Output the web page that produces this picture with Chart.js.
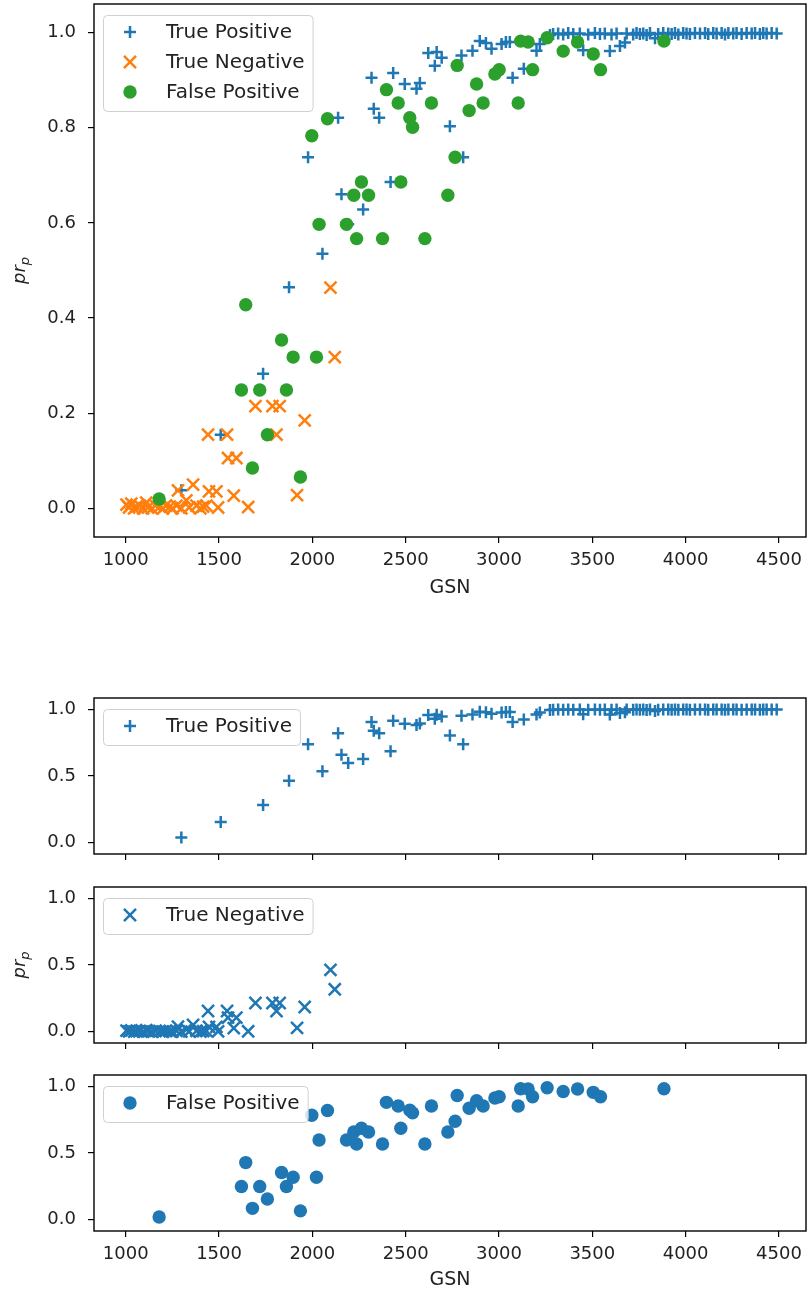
<!DOCTYPE html>
<html>
<head>
<meta charset="utf-8">
<script src="https://cdn.jsdelivr.net/npm/chart.js@4.4.0/dist/chart.umd.min.js"></script>
<style>
  body { margin: 0; background: #fff; }
  #wrap { position: relative; width: 807px; height: 1295px; }
  canvas { position: absolute; left: 0; }
</style>
</head>
<body>
<div id="wrap">
  <canvas id="cAll" width="807" height="600" style="top:0px"></canvas>
  <canvas id="cTP" width="807" height="175" style="top:690px"></canvas>
  <canvas id="cTN" width="807" height="175" style="top:880px"></canvas>
  <canvas id="cFP" width="807" height="224" style="top:1068px"></canvas>
</div>
<script>
// ---- data ----
const tpGsn = [1298, 1509, 1736, 1875, 1977, 2054, 2138, 2156, 2192, 2272,
               2317, 2329, 2358, 2419, 2433, 2495, 2558, 2576, 2621, 2656,
               2666, 2693, 2737, 2799, 2808, 2858, 2897, 2930, 2960, 3014,
               3037, 3058, 3073, 3133, 3201, 3219, 3273, 3290, 3317, 3344,
               3371, 3398, 3433, 3451, 3478, 3514, 3541, 3567, 3594, 3603,
               3630, 3648, 3675, 3684, 3719, 3737, 3755, 3773, 3791, 3809,
               3836, 3853, 3880, 3907, 3925, 3943, 3961, 3987, 4005, 4023,
               4050, 4077, 4104, 4121, 4148, 4166, 4193, 4211, 4229, 4255,
               4273, 4300, 4327, 4354, 4372, 4398, 4416, 4434, 4461, 4488];
const tpPr  = [0.038, 0.155, 0.283, 0.465, 0.738, 0.535, 0.821, 0.660, 0.597, 0.628,
               0.905, 0.840, 0.821, 0.686, 0.915, 0.892, 0.882, 0.894, 0.957, 0.930,
               0.959, 0.947, 0.803, 0.952, 0.738, 0.962, 0.982, 0.978, 0.966, 0.976,
               0.980, 0.980, 0.905, 0.924, 0.962, 0.976, 0.995, 0.997, 0.998, 0.996,
               0.999, 0.997, 0.998, 0.963, 0.996, 0.999, 0.997, 0.998, 0.961, 0.996,
               0.998, 0.972, 0.979, 0.998, 0.996, 0.999, 0.997, 0.998, 0.995, 0.999,
               0.988, 0.997, 0.999, 0.998, 0.997, 0.999, 0.996, 0.999, 0.998, 0.997,
               0.999, 0.998, 0.999, 0.997, 0.999, 0.998, 0.999, 0.996, 0.999, 0.998,
               0.999, 0.997, 0.999, 0.998, 0.999, 0.997, 0.999, 0.998, 0.999, 0.998];

const tnGsn = [1004, 1018, 1030, 1045, 1057, 1075, 1093, 1110, 1120, 1140,
               1160, 1182, 1200, 1215, 1236, 1250, 1272, 1280, 1298, 1325,
               1340, 1361, 1379, 1400, 1415, 1432, 1441, 1446, 1486, 1495,
               1543, 1548, 1579, 1593, 1656, 1695, 1786, 1808, 1825, 1918,
               1959, 2097, 2120];
const tnPr  = [0.008, 0.002, 0.010, 0.000, 0.004, 0.006, 0.000, 0.012, 0.002, 0.000,
               0.006, 0.004, 0.000, 0.006, 0.004, 0.000, 0.006, 0.038, 0.000, 0.017,
               0.002, 0.050, 0.006, 0.000, 0.004, 0.006, 0.155, 0.036, 0.036, 0.002,
               0.155, 0.106, 0.027, 0.106, 0.003, 0.215, 0.215, 0.155, 0.215, 0.028,
               0.185, 0.464, 0.318];

const fpGsn = [1179, 1620, 1643, 1679, 1718, 1759, 1835, 1861, 1897, 1936,
               1997, 2022, 2036, 2081, 2183, 2222, 2237, 2263, 2301, 2376,
               2397, 2460, 2474, 2522, 2537, 2603, 2638, 2726, 2765, 2776,
               2840, 2880, 2915, 2978, 3001, 3103, 3116, 3156, 3180, 3258,
               3344, 3421, 3505, 3544, 3884];
const fpPr  = [0.020, 0.249, 0.428, 0.085, 0.249, 0.155, 0.354, 0.249, 0.318, 0.066,
               0.783, 0.318, 0.597, 0.819, 0.597, 0.658, 0.567, 0.686, 0.658, 0.567,
               0.880, 0.852, 0.686, 0.821, 0.801, 0.567, 0.852, 0.658, 0.738, 0.931,
               0.836, 0.892, 0.852, 0.913, 0.922, 0.852, 0.982, 0.980, 0.922, 0.989,
               0.961, 0.980, 0.955, 0.922, 0.982];

const xTicks = [1000, 1500, 2000, 2500, 3000, 3500, 4000, 4500];
const yTicksTop = [0.0, 0.2, 0.4, 0.6, 0.8, 1.0];
const yTicksSub = [0.0, 0.5, 1.0];

const BLUE = '#1f77b4', ORANGE = '#ff7f0e', GREEN = '#2ca02c';
const FONT = '"DejaVu Sans", "Liberation Sans", sans-serif';

function pts(xs, ys) {
    return xs.map((x, i) => ({ x: x, y: ys[i] }));
}

function tpSet(color) {
    return { label: 'True Positive', data: pts(tpGsn, tpPr), pointStyle: 'cross',
             pointRadius: 6, borderWidth: 2.5, borderColor: color, backgroundColor: color, order: 2 };
}
function tnSet(color) {
    return { label: 'True Negative', data: pts(tnGsn, tnPr), pointStyle: 'crossRot',
             pointRadius: 8.5, borderWidth: 2.5, borderColor: color, backgroundColor: color, order: 1 };
}
function fpSet(color) {
    return { label: 'False Positive', data: pts(fpGsn, fpPr), pointStyle: 'circle',
             pointRadius: 6.7, borderWidth: 0, borderColor: color, backgroundColor: color, order: 0 };
}

// legend marker, same shapes as the points
function drawMarker(ctx, style, r, lw, color, x, y) {
    ctx.save();
    ctx.strokeStyle = color;
    ctx.fillStyle = color;
    ctx.lineWidth = lw;
    ctx.beginPath();
    if (style === 'circle') {
        ctx.arc(x, y, r, 0, Math.PI * 2);
        ctx.fill();
    } else if (style === 'cross') {
        ctx.moveTo(x - r, y); ctx.lineTo(x + r, y);
        ctx.moveTo(x, y - r); ctx.lineTo(x, y + r);
        ctx.stroke();
    } else {
        const d = r * Math.SQRT1_2;
        ctx.moveTo(x - d, y - d); ctx.lineTo(x + d, y + d);
        ctx.moveTo(x + d, y - d); ctx.lineTo(x - d, y + d);
        ctx.stroke();
    }
    ctx.restore();
}

// full box round the axes
const frameBox = {
    id: 'frameBox',
    afterDatasetsDraw(chart) {
        const a = chart.chartArea, ctx = chart.ctx;
        ctx.save();
        ctx.strokeStyle = '#000';
        ctx.lineWidth = 1.4;
        ctx.strokeRect(a.left, a.top, a.right - a.left, a.bottom - a.top);
        ctx.restore();
    }
};

// matplotlib style legend in upper left
const innerLegend = {
    id: 'innerLegend',
    afterDraw(chart) {
        const ctx = chart.ctx, a = chart.chartArea;
        const sets = chart.data.datasets.slice().sort((p, q) => q.order - p.order);
        const rowH = 30;
        ctx.save();
        ctx.font = '20px ' + FONT;
        let tw = 0;
        sets.forEach(d => { tw = Math.max(tw, ctx.measureText(d.label).width); });
        const x0 = a.left + 9, y0 = a.top + 11;
        const w = 63 + tw + 8, h = sets.length * rowH + 6;
        ctx.beginPath();
        ctx.roundRect(x0 + 0.5, y0 + 0.5, w, h, 4);
        ctx.fillStyle = 'rgba(255,255,255,0.8)';
        ctx.fill();
        ctx.strokeStyle = '#d0d0d0';
        ctx.lineWidth = 1;
        ctx.stroke();
        sets.forEach((d, i) => {
            const cy = y0 + 17 + i * rowH;
            drawMarker(ctx, d.pointStyle, d.pointRadius, d.borderWidth, d.backgroundColor, x0 + 27, cy);
            ctx.fillStyle = '#222';
            ctx.textBaseline = 'middle';
            ctx.textAlign = 'left';
            ctx.fillText(d.label, x0 + 63, cy + 1);
        });
        ctx.restore();
    }
};

// italic pr with subscript p
const yLabel = {
    id: 'yLabel',
    afterDraw(chart) {
        const opt = chart.options.plugins.yLabel;
        if (!opt || !opt.show) return;
        const a = chart.chartArea, ctx = chart.ctx;
        ctx.save();
        ctx.translate(22, (a.top + a.bottom) / 2);
        ctx.rotate(-Math.PI / 2);
        ctx.fillStyle = '#222';
        ctx.textBaseline = 'middle';
        ctx.textAlign = 'left';
        ctx.font = 'italic 18px ' + FONT;
        const w1 = ctx.measureText('pr').width;
        ctx.font = 'italic 13px ' + FONT;
        const w2 = ctx.measureText('p').width;
        const start = -(w1 + w2) / 2;
        ctx.font = 'italic 18px ' + FONT;
        ctx.fillText('pr', start, -2);
        ctx.font = 'italic 13px ' + FONT;
        ctx.fillText('p', start + w1, 4);
        ctx.restore();
    }
};

function makeChart(id, datasets, o) {
    const canvas = document.getElementById(id);
    const H = canvas.height;
    return new Chart(canvas, {
        type: 'scatter',
        data: { datasets: datasets },
        options: {
            responsive: false,
            animation: false,
            devicePixelRatio: 1,
            layout: { autoPadding: false, padding: { top: o.top, right: 1, left: 0, bottom: 0 } },
            plugins: {
                legend: { display: false },
                tooltip: { enabled: false },
                yLabel: { show: o.ylabel }
            },
            scales: {
                x: {
                    type: 'linear',
                    min: 830,
                    max: 4645,
                    afterBuildTicks: s => { s.ticks = xTicks.map(v => ({ value: v })); },
                    afterFit: s => {
                        s.height = H - o.bottom;
                        s.paddingLeft = 0;
                        s.paddingRight = 0;
                    },
                    ticks: {
                        autoSkip: false, maxRotation: 0, padding: 7, color: '#222',
                        font: { family: FONT, size: 18 },
                        callback: v => (o.xlabels ? String(v) : '')
                    },
                    grid: { drawOnChartArea: false, drawTicks: true, tickLength: 6, tickColor: '#000', lineWidth: 1.2 },
                    border: { display: false },
                    title: {
                        display: o.xlabels, text: 'GSN', color: '#222',
                        font: { family: FONT, size: 19 },
                        padding: { top: 0, bottom: 1 }
                    }
                },
                y: {
                    type: 'linear',
                    min: o.ymin,
                    max: o.ymax,
                    afterBuildTicks: s => { s.ticks = o.yticks.map(v => ({ value: v })); },
                    afterFit: s => {
                        s.width = 94;
                        s.paddingTop = 0;
                        s.paddingBottom = 0;
                    },
                    ticks: {
                        padding: 12, color: '#222',
                        font: { family: FONT, size: 18 },
                        callback: v => Number(v).toFixed(1)
                    },
                    grid: { drawOnChartArea: false, drawTicks: true, tickLength: 6, tickColor: '#000', lineWidth: 1.2 },
                    border: { display: false }
                }
            }
        },
        plugins: [frameBox, innerLegend, yLabel]
    });
}

makeChart('cAll', [tpSet(BLUE), tnSet(ORANGE), fpSet(GREEN)],
    { top: 4, bottom: 537, ymin: -0.06, ymax: 1.06, yticks: yTicksTop, xlabels: true, ylabel: true });
makeChart('cTP', [tpSet(BLUE)],
    { top: 8, bottom: 164, ymin: -0.085, ymax: 1.085, yticks: yTicksSub, xlabels: false, ylabel: false });
makeChart('cTN', [tnSet(BLUE)],
    { top: 7, bottom: 163, ymin: -0.085, ymax: 1.085, yticks: yTicksSub, xlabels: false, ylabel: true });
makeChart('cFP', [fpSet(BLUE)],
    { top: 7, bottom: 163, ymin: -0.085, ymax: 1.085, yticks: yTicksSub, xlabels: true, ylabel: false });
</script>
</body>
</html>
